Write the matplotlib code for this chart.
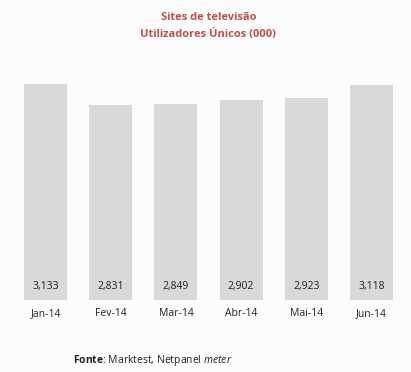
import matplotlib.pyplot as plt

# data ------------------------------------------
months = ['Jan-14', 'Fev-14', 'Mar-14', 'Abr-14', 'Mai-14', 'Jun-14']
users = [3133, 2831, 2849, 2902, 2923, 3118]

bar_color = '#D9D9D9'
title_color = '#C0504D'
bg = '#FCFCFC'

plt.rcParams['font.family'] = ['Open Sans', 'DejaVu Sans']
plt.rcParams['mathtext.fontset'] = 'custom'
plt.rcParams['mathtext.rm'] = 'Open Sans'
plt.rcParams['mathtext.it'] = 'Open Sans:italic'
plt.rcParams['mathtext.bf'] = 'Open Sans:bold'

W, H = 411, 372
fig = plt.figure(figsize=(W / 100, H / 100), dpi=100, facecolor=bg)
# plot area: y from 72 px to 300 px (baseline of bars)
ax = fig.add_axes([13 / W, (H - 300) / H, 391 / W, 228 / H])
ax.set_facecolor(bg)

x = range(len(months))
ax.bar(x, users, width=0.66, color=bar_color)

for i, v in zip(x, users):
    ax.text(i, 190, f'{v:,}', ha='center', va='center', fontsize=7.5, color='#222222')

ax.set_xlim(-0.5, len(months) - 0.5)
ax.set_ylim(0, 3307)
ax.set_xticks(list(x))
ax.set_xticklabels(months, fontsize=7.5, color='#222222')
ax.tick_params(axis='x', length=0, pad=6)
ax.set_yticks([])
for s in ax.spines.values():
    s.set_visible(False)

fig.text(0.507, 1 - 18 / H, 'Sites de televisão', ha='center', va='center',
         fontsize=8, fontweight='bold', color=title_color)
fig.text(0.507, 1 - 35 / H, 'Utilizadores Únicos (000)', ha='center', va='center',
         fontsize=8, fontweight='bold', color=title_color)

fig.text(73 / W, 1 - 360 / H, r'$\bf{Fonte}$: Marktest, Netpanel $\it{meter}$',
         ha='left', va='center', fontsize=7.5, color='#222222')

fig.savefig('out.png', facecolor=bg)
